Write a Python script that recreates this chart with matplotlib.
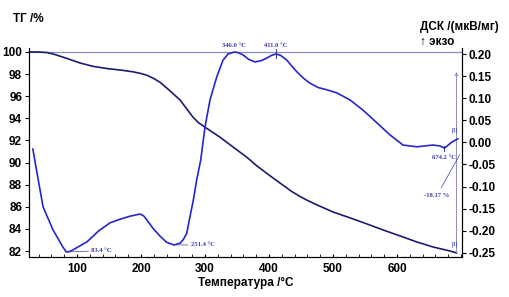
"""TG / DSC curve of the sample, redrawn from the instrument export"""
import matplotlib
matplotlib.use("Agg")
import matplotlib.pyplot as plt
from matplotlib.ticker import MultipleLocator

# TG curve (mass, %)
tg_temp = [25, 40, 53, 65, 84, 105, 125, 147, 170, 188, 200, 209, 220, 230,
           245, 261, 281, 290, 300, 323, 350, 366, 380, 397, 410, 422, 435,
           448, 460, 475, 500, 527, 553, 578, 605, 631, 656, 683, 693]
tg_mass = [100.0, 100.0, 99.95, 99.78, 99.42, 99.0, 98.7, 98.5, 98.35, 98.2,
           98.05, 97.9, 97.6, 97.25, 96.5, 95.66, 94.12, 93.6, 93.2, 92.31,
           91.14, 90.45, 89.75, 89.0, 88.45, 87.95, 87.4, 86.95, 86.58,
           86.17, 85.53, 84.99, 84.45, 83.91, 83.36, 82.82, 82.37, 82.0,
           81.83]

# DSC curve (mkV/mg)
dsc_temp = [31, 37.5, 47, 62.5, 78, 83.4, 90, 100, 115.6, 134, 151.6, 167,
            182.8, 198.4, 204, 209.4, 219, 229.7, 240, 251.4, 261, 266,
            271.4, 276, 281.8, 287, 293.3, 300, 307.8, 318.3, 328.1, 336,
            346, 352, 359.4, 368, 378, 388, 396.9, 404, 411, 418, 428, 436,
            444, 454, 464, 477, 490.6, 506, 526.6, 546.9, 568.8, 589, 609.4,
            631, 656, 667, 674.2, 686, 695]
dsc_val = [-0.015, -0.069, -0.146, -0.198, -0.237, -0.248, -0.246, -0.238,
           -0.225, -0.200, -0.182, -0.174, -0.167, -0.162, -0.166, -0.176,
           -0.195, -0.212, -0.226, -0.232, -0.228, -0.220, -0.206, -0.172,
           -0.130, -0.085, -0.040, 0.035, 0.096, 0.148, 0.186, 0.200,
           0.2045, 0.203, 0.198, 0.188, 0.182, 0.185, 0.191, 0.197, 0.200,
           0.197, 0.186, 0.172, 0.159, 0.145, 0.134, 0.124, 0.119, 0.112,
           0.096, 0.073, 0.044, 0.017, -0.006, -0.010, -0.006, -0.008,
           -0.013, 0.001, 0.008]

# peak labels
dsc_peaks = [83.4, 251.4, 346.0, 411.0, 674.2]
mass_change = -18.17

TG_COLOR = "#1c1c6e"
DSC_COLOR = "#2626cc"
NOTE_COLOR = "#3b3bb8"
MARK_COLOR = "#8c8cc8"

plt.rcParams["font.family"] = ["Liberation Sans", "DejaVu Sans"]
plt.rcParams["font.weight"] = "bold"

fig = plt.figure(figsize=(5.09, 2.97), dpi=100)
ax = fig.add_axes([0.057, 0.1347, 0.8507, 0.7037])
ax2 = ax.twinx()

ax.plot(tg_temp, tg_mass, color=TG_COLOR, linewidth=1.2, zorder=3)
ax2.plot(dsc_temp, dsc_val, color=DSC_COLOR, linewidth=1.2, zorder=3)

ax.axhline(100, color=MARK_COLOR, linewidth=0.9, zorder=1)

ax.set_xlim(25, 701.6)
ax.set_ylim(81.46, 100.36)
ax2.set_ylim(-0.2593, 0.2136)

ax.xaxis.set_minor_locator(MultipleLocator(20))
ax.set_xticks([100, 200, 300, 400, 500, 600])
ax.set_yticks(range(82, 101, 2))
ax2.set_yticks([0.20, 0.15, 0.10, 0.05, 0.0, -0.05, -0.10, -0.15, -0.20, -0.25])
ax2.set_yticklabels(["0.20", "0.15", "0.10", "0.05", "0.00", "-0.05", "-0.10",
                     "-0.15", "-0.20", "-0.25"])

for a in (ax, ax2):
    a.spines["top"].set_visible(False)
    a.tick_params(labelsize=8.5, width=0.8, length=3, pad=2)
ax.tick_params(axis="x", which="both", direction="in", length=2.5, pad=4)
ax.tick_params(axis="y", direction="out")
ax2.tick_params(axis="y", direction="out")

ax.set_xlabel("Температура /°C", fontsize=8.5, fontweight="bold", labelpad=2)
fig.text(0.025, 0.925, "ТГ /%", fontsize=8.5, fontweight="bold")
fig.text(0.825, 0.9, "ДСК /(мкВ/мг)", fontsize=8.5, fontweight="bold")
fig.text(0.825, 0.848, "↑ экзо", fontsize=8.5, fontweight="bold")

# peak annotations
note = dict(fontsize=4.8, color=NOTE_COLOR, family="Liberation Serif",
            fontweight="bold")
ax2.annotate(f"{dsc_peaks[0]:.1f} °C", (dsc_peaks[0], -0.248),
             xytext=(18, 1), textcoords="offset points", va="center", **note,
             arrowprops=dict(arrowstyle="-", color=NOTE_COLOR, lw=0.5,
                             shrinkA=0, shrinkB=0))
ax2.annotate(f"{dsc_peaks[1]:.1f} °C", (dsc_peaks[1], -0.232),
             xytext=(12, 0), textcoords="offset points", va="center", **note,
             arrowprops=dict(arrowstyle="-", color=NOTE_COLOR, lw=0.5,
                             shrinkA=0, shrinkB=0))
ax2.text(dsc_peaks[2], 0.213, f"{dsc_peaks[2]:.1f} °C", ha="center",
         va="bottom", **note)
ax2.text(dsc_peaks[3], 0.213, f"{dsc_peaks[3]:.1f} °C", ha="center",
         va="bottom", **note)
ax2.plot([dsc_peaks[3], dsc_peaks[3]], [0.19, 0.212], color=TG_COLOR, lw=0.6)
ax2.plot([dsc_peaks[4], dsc_peaks[4]], [-0.019, -0.008], color=TG_COLOR,
         lw=0.6)
ax2.text(dsc_peaks[4], -0.035, f"{dsc_peaks[4]:.1f} °C", ha="center",
         va="center", **note)

# mass change step marker
ax.annotate("", xy=(693, 98.2), xytext=(693, 81.83),
            arrowprops=dict(arrowstyle="->", color=MARK_COLOR, lw=0.7,
                            shrinkA=0, shrinkB=0, mutation_scale=5))
ax.annotate(f"{mass_change:.2f} %", (698, 90.7), xytext=(662, 87.0),
            ha="center", va="center", **note,
            arrowprops=dict(arrowstyle="-", color=NOTE_COLOR, lw=0.5,
                            shrinkA=2, shrinkB=0))
ax.text(691, 92.9, "[1]", ha="center", va="center", fontsize=4,
        color=NOTE_COLOR, family="Liberation Serif")
ax.text(691, 82.6, "[1]", ha="center", va="center", fontsize=4,
        color=NOTE_COLOR, family="Liberation Serif")

fig.savefig("out.png", dpi=100)
